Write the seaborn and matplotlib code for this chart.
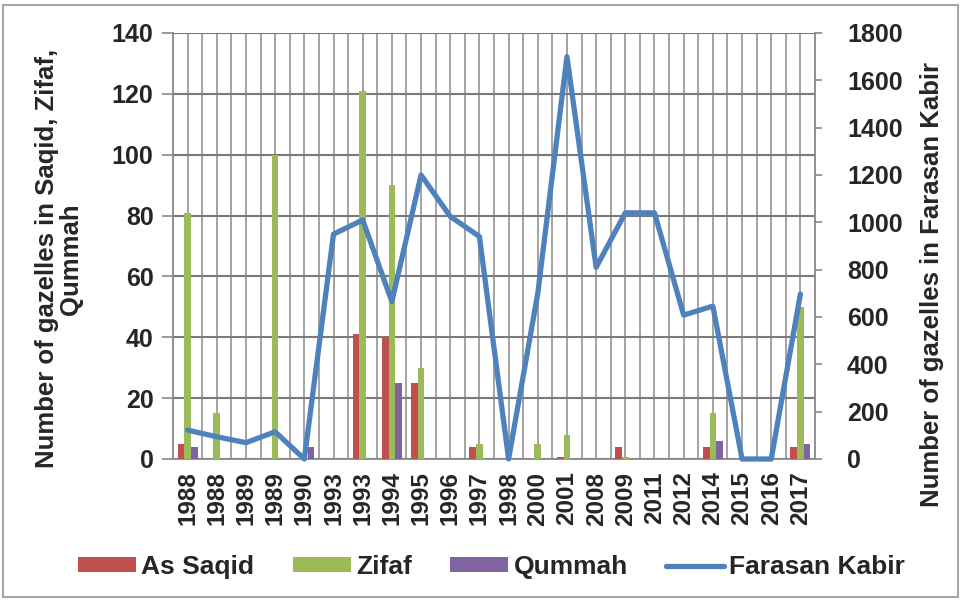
import pandas as pd
import matplotlib.pyplot as plt
import seaborn as sns
from matplotlib.patches import Rectangle

# Datos
years = ['1988', '1988', '1989', '1989', '1990', '1993', '1993', '1994', '1995', '1996', '1997',
         '1998', '2000', '2001', '2008', '2009', '2011', '2012', '2014', '2015', '2016', '2017']
saqid = [5, 0, 0, 0, 0, 0, 41, 40, 25, 0, 4, 0, 0, 0.5, 0, 4, 0, 0, 4, 0, 0, 4]
zifaf = [81, 15, 0, 100, 0, 0, 121, 90, 30, 0, 5, 0, 5, 8, 0, 0.5, 0, 0, 15, 0, 0, 50]
qummah = [4, 0, 0, 0, 4, 0, 0, 25, 0, 0, 0, 0, 0, 0, 0, 0, 0, 0, 6, 0, 0, 5]
farasan = [122, 94, 69, 115, 0, 950, 1010, 665, 1200, 1025, 940, 0, 700, 1700, 810, 1040, 1040,
           608, 646, 0, 0, 697]

sites = ['As Saqid', 'Zifaf', 'Qummah']
colores = ['#C0504D', '#9BBB59', '#8064A2']
color_linea = '#4F81BD'
gris = '#8a8a8a'

pos = list(range(len(years)))
df = pd.DataFrame({'pos': pos, 'As Saqid': saqid, 'Zifaf': zifaf, 'Qummah': qummah})
df_long = df.melt(id_vars='pos', value_vars=sites, var_name='site', value_name='n')

sns.set_style('white')
plt.rcParams['font.family'] = ['Liberation Sans', 'DejaVu Sans']
plt.rcParams['font.weight'] = 'bold'
plt.rcParams['axes.labelweight'] = 'bold'

fig = plt.figure(figsize=(9.62, 6.01), dpi=100)
ax1 = fig.add_axes([173 / 962, 1 - 459 / 601, (815 - 173) / 962, (459 - 33) / 601])

sns.barplot(data=df_long, x='pos', y='n', hue='site', hue_order=sites, palette=colores,
            width=0.68, saturation=1, linewidth=0, edgecolor='none', ax=ax1, zorder=3)
h1, l1 = ax1.get_legend_handles_labels()
ax1.get_legend().remove()

ax1.set_xlim(-0.5, len(years) - 0.5)
ax1.set_ylim(0, 140)
ax1.set_yticks(range(0, 141, 20))
ax1.set_xticks(pos)
ax1.set_xticklabels(years, rotation=90, fontsize=17.5, fontweight='bold')
ax1.set_xticks([p - 0.5 for p in pos] + [len(years) - 0.5], minor=True)
ax1.tick_params(axis='x', which='major', length=0, pad=9)
ax1.tick_params(axis='x', which='minor', length=7, color=gris, width=1.2)
ax1.tick_params(axis='y', length=8, color=gris, width=1.2, labelsize=18, pad=6)
for t in ax1.get_yticklabels():
    t.set_fontweight('bold')
ax1.set_xlabel('')
ax1.set_ylabel('Number of gazelles in Saqid, Zifaf,\nQummah', fontsize=18.5, fontweight='bold',
               linespacing=1.0)
ax1.yaxis.set_label_coords(-0.14, 0.47)

ax1.grid(True, which='both', axis='x', color=gris, lw=1.1, zorder=0)
ax1.grid(True, which='major', axis='y', color='#7a7a7a', lw=1.5, zorder=0)
ax1.set_axisbelow(True)
for s in ['left', 'bottom']:
    ax1.spines[s].set_color(gris)
    ax1.spines[s].set_linewidth(1.3)
ax1.spines['top'].set_visible(False)
ax1.spines['right'].set_visible(False)

# Eje secundario: Farasan Kabir
ax2 = ax1.twinx()
sns.lineplot(x=pos, y=farasan, ax=ax2, color=color_linea, lw=3.8, label='Farasan Kabir')
ax2.lines[0].set_clip_on(False)
h2, l2 = ax2.get_legend_handles_labels()
ax2.get_legend().remove()
ax2.set_ylim(0, 1800)
ax2.set_yticks(range(0, 1801, 200))
ax2.tick_params(axis='y', length=5, color=gris, width=1.2, labelsize=18, pad=18)
for t in ax2.get_yticklabels():
    t.set_fontweight('bold')
ax2.set_ylabel('Number of gazelles in Farasan Kabir', fontsize=18.5, fontweight='bold')
ax2.yaxis.set_label_coords(1.163, 0.41)
ax2.grid(False)
for s in ['left', 'top', 'bottom']:
    ax2.spines[s].set_visible(False)
ax2.spines['right'].set_color(gris)
ax2.spines['right'].set_linewidth(1.3)

fig.legend(h1 + h2, l1 + l2, loc='center', bbox_to_anchor=(0.511, 1 - 567 / 601), ncol=4,
           frameon=False, fontsize=19, handlelength=2.2, handleheight=0.5,
           handletextpad=0.2, columnspacing=1.45)

# Marco exterior
fig.patches.append(Rectangle((0.003, 0.006), 0.993, 0.986, transform=fig.transFigure,
                             fill=False, edgecolor='#a6a6a6', lw=1.5))

plt.savefig('out.png', dpi=100)
